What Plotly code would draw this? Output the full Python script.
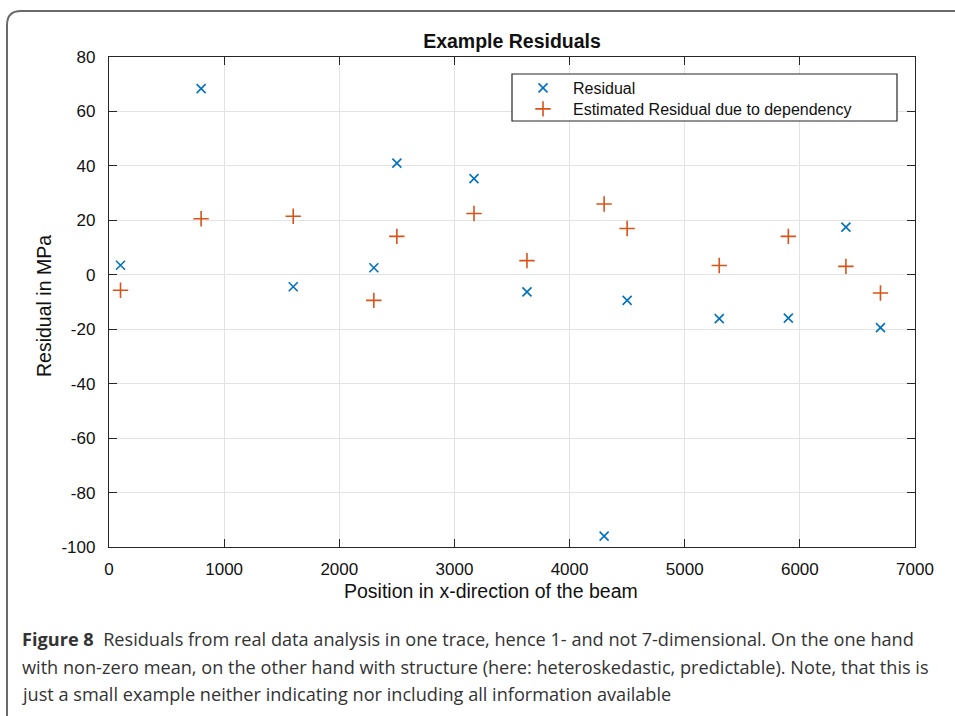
import plotly.graph_objects as go

# ---- data ----
positions = [100, 800, 1600, 2300, 2500, 3170, 3630, 4300, 4500, 5300, 5900, 6400, 6700]
residual = [3.5, 68.4, -4.4, 2.6, 41.0, 35.3, -6.3, -96.0, -9.4, -16.1, -15.9, 17.5, -19.4]
estimated = [-5.7, 20.6, 21.5, -9.4, 14.1, 22.5, 5.2, 26.0, 17.0, 3.4, 14.1, 3.1, -6.7]
x_ticks = [0, 1000, 2000, 3000, 4000, 5000, 6000, 7000]
y_ticks = [-100, -80, -60, -40, -20, 0, 20, 40, 60, 80]

W, H = 955, 716
L, R, T, B = 109, 40, 57, 169
pw, ph = W - L - R, H - T - B

def px(xp):
    return (xp - L) / pw

def py(yp):
    return (H - B - yp) / ph

fig = go.Figure()
fig.add_trace(go.Scatter(
    x=positions, y=residual, mode="markers", name="Residual", legend="legend",
    marker=dict(symbol="x-thin", size=9, color="#0072BD",
                line=dict(width=1.6, color="#0072BD"))))
fig.add_trace(go.Scatter(
    x=positions, y=estimated, mode="markers", name="Estimated Residual due to dependency",
    legend="legend2",
    marker=dict(symbol="cross-thin", size=11, color="#D95319",
                line=dict(width=1.6, color="#D95319"))))

FONT = "Liberation Sans, Arial, sans-serif"
axis_font = dict(family=FONT, size=17, color="#111")
fig.update_xaxes(range=[0, 7000], tickvals=x_ticks, ticktext=[str(v) for v in x_ticks],
                 showgrid=True, gridcolor="#e3e3e3", gridwidth=1,
                 showline=True, linecolor="#262626", linewidth=1.3, mirror="ticks",
                 ticks="inside", ticklen=8, tickcolor="#262626",
                 zeroline=False, tickfont=axis_font, ticklabelstandoff=6)
fig.update_yaxes(range=[-100, 80], tickvals=y_ticks, ticktext=[str(v) for v in y_ticks],
                 showgrid=True, gridcolor="#e3e3e3", gridwidth=1,
                 showline=True, linecolor="#262626", linewidth=1.3, mirror="ticks",
                 ticks="inside", ticklen=8, tickcolor="#262626",
                 zeroline=False, tickfont=axis_font, ticklabelstandoff=9)

shapes = []
# legend box
shapes.append(dict(type="rect", xref="paper", yref="paper",
                   x0=px(512), x1=px(897), y0=py(121), y1=py(74),
                   line=dict(color="#262626", width=1.2), fillcolor="white", layer="above"))
# outer rounded frame (open on right/bottom)
r = 14
path = (f"M {px(7)},{py(716)} L {px(7)},{py(11 + r)} "
        f"Q {px(7)},{py(11)} {px(7 + r)},{py(11)} L {px(960)},{py(11)}")
shapes.append(dict(type="path", xref="paper", yref="paper", path=path,
                   line=dict(color="#6a6a6a", width=2)))

annotations = []
# axis titles
annotations.append(dict(text="Position in x-direction of the beam", xref="paper", yref="paper",
                        x=px(490.5), y=py(591), xanchor="center", yanchor="middle",
                        showarrow=False, font=dict(family=FONT, size=19.5, color="#111")))
annotations.append(dict(text="Residual in MPa", xref="paper", yref="paper", textangle=-90,
                        x=px(44), y=py(306), xanchor="center", yanchor="middle",
                        showarrow=False, font=dict(family=FONT, size=19.5, color="#111")))

cap_font = dict(family="Open Sans, Noto Sans, sans-serif", size=18.15, color="#333")
lines = [
    "<b>Figure 8</b>  Residuals from real data analysis in one trace, hence 1- and not 7-dimensional. On the one hand",
    "with non-zero mean, on the other hand with structure (here: heteroskedastic, predictable). Note, that this is",
    "just a small example neither indicating nor including all information available",
]
for txt, yc in zip(lines, [639, 667, 694]):
    annotations.append(dict(text=txt, xref="paper", yref="paper", x=px(20), y=py(yc),
                            xanchor="left", yanchor="middle", showarrow=False,
                            align="left", font=cap_font))

leg_font = dict(family=FONT, size=16, color="#111")
fig.update_layout(
    width=W, height=H,
    margin=dict(l=L, r=R, t=T, b=B),
    paper_bgcolor="white", plot_bgcolor="white",
    title=dict(text="<b>Example Residuals</b>", x=px(512), xref="paper", xanchor="center",
               y=1 - 41 / H, yanchor="middle",
               font=dict(family=FONT, size=19.5, color="#111")),
    showlegend=True,
    legend=dict(x=px(513), y=py(88), xanchor="left", yanchor="middle",
                bgcolor="rgba(0,0,0,0)", borderwidth=0, itemwidth=50, font=leg_font),
    legend2=dict(x=px(513), y=py(109), xanchor="left", yanchor="middle",
                 bgcolor="rgba(0,0,0,0)", borderwidth=0, itemwidth=50, font=leg_font),
    shapes=shapes,
    annotations=annotations,
)

fig.write_html("out.html")
